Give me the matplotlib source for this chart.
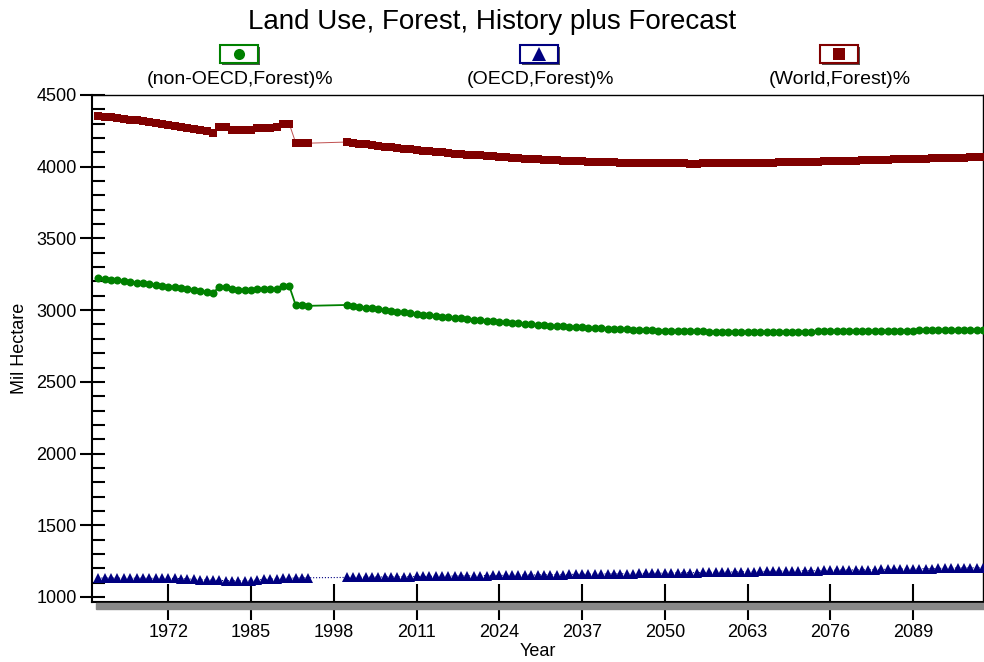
import matplotlib
matplotlib.use("Agg")
import matplotlib.pyplot as plt
from matplotlib.patches import Rectangle
from matplotlib.lines import Line2D
from matplotlib.ticker import MultipleLocator

plt.rcParams["font.family"] = ["Liberation Sans", "DejaVu Sans"]

W, H = 984, 662

# history 1961-1994, forecast 2000-2100
years_hist = list(range(1961, 1995))
years_fore = list(range(2000, 2101))

nonoecd_hist = [3222, 3217, 3212, 3207, 3202, 3197, 3192, 3187, 3182, 3176,
                3170, 3164, 3158, 3152, 3146, 3140, 3134, 3127, 3118, 3164,
                3160, 3146, 3143, 3142, 3142, 3148, 3148, 3147, 3148, 3168,
                3167, 3036, 3033, 3030]
oecd_hist = [1132, 1132, 1132, 1131, 1131, 1131, 1131, 1131, 1130, 1130,
             1130, 1129, 1129, 1128, 1126, 1123, 1121, 1119, 1117, 1115,
             1114, 1113, 1112, 1112, 1112, 1120, 1122, 1124, 1126, 1130,
             1131, 1132, 1133, 1134]
world_hist = [4354, 4349, 4344, 4338, 4333, 4328, 4323, 4318, 4312, 4306,
              4300, 4293, 4287, 4280, 4272, 4263, 4255, 4246, 4235, 4279,
              4274, 4259, 4255, 4254, 4254, 4268, 4270, 4271, 4274, 4298,
              4298, 4168, 4166, 4164]

nonoecd_fore = [3036, 3030, 3024, 3018, 3012, 3006, 3000, 2995, 2989, 2984,
                2979, 2974, 2969, 2964, 2959, 2955, 2950, 2946, 2942, 2938,
                2934, 2930, 2926, 2922, 2918, 2914, 2911, 2908, 2904, 2901,
                2898, 2895, 2892, 2889, 2887, 2884, 2882, 2879, 2877, 2875,
                2873, 2871, 2869, 2867, 2865, 2864, 2862, 2861, 2859, 2858,
                2857, 2856, 2855, 2854, 2853, 2852, 2852, 2851, 2851, 2850,
                2850, 2850, 2850, 2850, 2850, 2850, 2850, 2850, 2850, 2850,
                2851, 2851, 2851, 2851, 2852, 2852, 2852, 2853, 2853, 2853,
                2854, 2854, 2855, 2855, 2856, 2856, 2857, 2857, 2858, 2858,
                2859, 2859, 2860, 2860, 2861, 2861, 2862, 2862, 2863, 2863,
                2864]
oecd_fore = [1136, 1137, 1137, 1138, 1138, 1139, 1140, 1140, 1141, 1141,
             1142, 1143, 1143, 1144, 1144, 1145, 1146, 1146, 1147, 1147,
             1148, 1149, 1149, 1150, 1150, 1151, 1152, 1152, 1153, 1153,
             1154, 1155, 1155, 1156, 1156, 1157, 1158, 1158, 1159, 1159,
             1160, 1161, 1161, 1162, 1163, 1163, 1164, 1164, 1165, 1166,
             1166, 1167, 1168, 1169, 1169, 1170, 1171, 1172, 1172, 1173,
             1174, 1175, 1175, 1176, 1177, 1178, 1178, 1179, 1180, 1181,
             1181, 1182, 1183, 1184, 1184, 1185, 1186, 1187, 1188, 1188,
             1189, 1190, 1191, 1191, 1192, 1193, 1194, 1194, 1195, 1196,
             1197, 1198, 1198, 1199, 1200, 1201, 1202, 1202, 1203, 1204,
             1205]
world_fore = [4172, 4167, 4161, 4156, 4150, 4145, 4140, 4135, 4130, 4125,
              4121, 4117, 4112, 4108, 4103, 4100, 4096, 4092, 4089, 4085,
              4082, 4079, 4075, 4072, 4068, 4065, 4063, 4060, 4057, 4054,
              4052, 4050, 4047, 4045, 4043, 4041, 4040, 4037, 4036, 4034,
              4033, 4032, 4030, 4029, 4028, 4027, 4026, 4025, 4024, 4024,
              4023, 4023, 4023, 4023, 4022, 4022, 4023, 4023, 4023, 4023,
              4024, 4025, 4025, 4026, 4027, 4028, 4028, 4029, 4030, 4031,
              4032, 4033, 4034, 4035, 4036, 4037, 4038, 4040, 4041, 4041,
              4043, 4044, 4046, 4046, 4048, 4049, 4051, 4051, 4053, 4054,
              4056, 4057, 4058, 4059, 4061, 4062, 4064, 4064, 4066, 4067,
              4069]

labels = ["(non-OECD,Forest)%", "(OECD,Forest)%", "(World,Forest)%"]
colors = ["#008000", "#000080", "#800000"]
markers = ["o", "^", "s"]
x_ticks = [1972, 1985, 1998, 2011, 2024, 2037, 2050, 2063, 2076, 2089]


def fx(px):
    return px / W


def fy(py):
    return 1 - py / H


fig = plt.figure(figsize=(W / 100, H / 100), dpi=100)
ax = fig.add_axes([fx(92), fy(602), fx(983) - fx(92), fy(95) - fy(602)])

years = years_hist + years_fore
series = [nonoecd_hist + nonoecd_fore, oecd_hist + oecd_fore, world_hist + world_fore]
line_styles = [dict(lw=1.3, ls="-", color="#008000"),
               dict(lw=0.8, ls=":", color="#000080"),
               dict(lw=0.7, ls="-", color="#c05050")]
msizes = [5.8, 7.5, 5.6]

for vals, c, m, ms, lst in zip(series, colors, markers, msizes, line_styles):
    ax.plot(years, vals, zorder=2, **lst)
    ax.plot(years, vals, ls="none", marker=m, ms=ms, color=c,
            markeredgewidth=0, zorder=3)

ax.set_xlim(1960, 2100)
ax.set_ylim(965, 4500)
ax.set_xticks(x_ticks)
ax.set_yticks(range(1000, 4501, 500))
ax.yaxis.set_minor_locator(MultipleLocator(100))
ax.tick_params(axis="y", which="major", direction="inout", length=18, width=1.5,
               labelsize=13, pad=2)
ax.tick_params(axis="y", which="minor", direction="in", length=9, width=1.5)
ax.tick_params(axis="x", which="major", direction="inout", length=26, width=1.5,
               labelsize=13, pad=3)
ax.tick_params(top=False, right=False)
for sp in ax.spines.values():
    sp.set_linewidth(1.5)
ax.spines["right"].set_linewidth(1.0)
ax.spines["top"].set_linewidth(1.0)

ax.set_xlabel("Year", fontsize=13, labelpad=1)
ax.set_ylabel("Mil Hectare", fontsize=13, labelpad=6)

# gray shadow under the x axis
fig.add_artist(Rectangle((fx(96), fy(609)), fx(984) - fx(96), fy(603) - fy(609),
                         transform=fig.transFigure, color="#888888", zorder=1))

fig.text(0.5, fy(22), "Land Use, Forest, History plus Forecast",
         ha="center", va="center", fontsize=20)

# legend icons above the plot
for cx, lab, c, m, ms in zip([240, 540, 840], labels, colors, markers, [8, 10, 8]):
    fig.add_artist(Rectangle((fx(cx - 18), fy(65)), fx(38), fy(46) - fy(64),
                             transform=fig.transFigure, facecolor="#505050",
                             edgecolor="none"))
    fig.add_artist(Rectangle((fx(cx - 20), fy(63)), fx(38), fy(46) - fy(64),
                             transform=fig.transFigure, facecolor="white",
                             edgecolor=c, lw=1.5))
    fig.add_artist(Line2D([fx(cx - 1)], [fy(54)], transform=fig.transFigure,
                          marker=m, ms=ms, color=c, markeredgewidth=0))
    fig.text(fx(cx), fy(79), lab, ha="center", va="center", fontsize=14)

fig.savefig("out.png", dpi=100)
